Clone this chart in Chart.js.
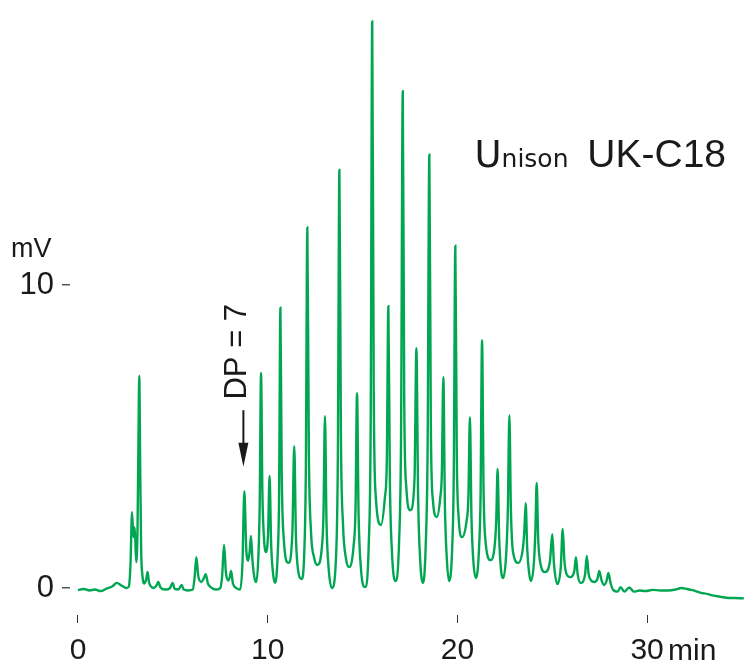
<!DOCTYPE html>
<html><head><meta charset="utf-8">
<script src="https://cdn.jsdelivr.net/npm/chart.js@4.4.0/dist/chart.umd.min.js"></script>
<style>html,body{margin:0;padding:0;background:#fff}#wrap{width:745px;height:662px;position:relative}</style>
</head><body><div id="wrap"><canvas id="c"></canvas></div>
<script>
// Retention time (min) and detector signal (mV)
const timeMin = [
  0.00,0.30,0.60,0.90,1.20,1.50,1.80,2.05,2.30,2.55,2.68,
  2.77,2.85,2.92,2.99,3.07,3.14,3.19,3.23,3.28,3.33,3.40,3.50,3.60,3.67,3.74,3.85,4.00,4.15,4.23,4.35,4.60,4.85,4.99,5.10,5.30,5.46,5.58,5.80,6.05,
  6.14,6.24,6.34,6.50,6.62,6.73,6.85,7.00,7.25,7.50,
  7.60,7.70,7.80,7.92,8.00,8.07,8.17,8.35,8.55,
  8.67,8.77,8.87,8.97,9.05,9.12,9.20,9.30,9.40,
  9.52,9.58,9.65,9.72,9.80,9.91,
  10.02,10.10,10.18,10.28,10.38,
  10.52,10.60,10.67,10.74,10.85,11.09,
  11.30,11.40,11.49,11.60,11.79,
  11.93,12.01,12.09,12.17,12.28,12.45,12.62,
  12.85,12.94,13.02,13.10,13.22,13.39,
  13.62,13.70,13.78,13.86,13.97,14.12,14.29,
  14.53,14.63,14.71,14.79,14.91,15.13,
  15.33,15.43,15.51,15.59,15.70,15.97,
  16.18,16.28,16.36,16.44,16.55,16.73,
  16.93,17.03,17.12,17.20,17.31,17.52,
  17.74,17.84,17.93,18.04,18.19,
  18.33,18.43,18.52,18.60,18.71,18.91,
  19.10,19.18,19.26,19.34,19.44,19.56,
  19.73,19.81,19.89,19.97,20.07,20.24,
  20.48,20.58,20.66,20.74,20.84,20.98,
  21.14,21.22,21.30,21.38,21.49,21.75,
  21.98,22.05,22.12,22.20,22.30,22.42,
  22.58,22.66,22.74,22.82,22.93,23.21,
  23.45,23.53,23.60,23.68,23.78,23.88,
  24.04,24.11,24.18,24.26,24.38,24.62,
  24.88,25.00,25.09,25.27,
  25.45,25.55,25.64,25.76,25.94,
  26.16,26.25,26.34,26.50,
  26.73,26.82,26.92,27.05,27.20,
  27.38,27.48,27.60,27.73,
  27.87,27.96,28.08,28.22,
  28.45,28.60,28.80,29.06,29.30,29.60,29.90,30.30,30.70,31.10,31.50,31.80,32.10,32.40,32.80,33.20,33.50,33.80,34.20,34.60,35.10
];
const signalMv = [
  -0.07,-0.03,-0.08,-0.05,-0.10,-0.02,0.05,0.17,0.08,0.00,0.05,
  0.8,2.5,1.68,2.0,0.86,2.0,5.0,7.0,4.0,1.3,0.4,0.15,0.3,0.53,0.2,0.05,0.0,0.1,0.2,0.02,-0.05,0.0,0.17,-0.03,-0.05,0.1,-0.05,-0.08,-0.05,
  0.3,1.02,0.4,0.2,0.3,0.46,0.15,0.03,-0.05,0.0,
  0.4,1.42,0.5,0.25,0.35,0.56,0.15,0.0,-0.05,
  0.8,3.2,1.3,0.9,1.2,1.72,0.9,0.35,0.2,
  1.2,2.8,7.1,3.2,1.7,1.19,
  1.8,3.7,1.5,0.5,0.17,
  1.0,3.0,9.25,3.8,1.6,0.83,
  1.8,4.68,1.7,0.6,0.3,
  1.2,3.8,11.9,4.5,1.9,1.0,0.76,
  1.3,2.4,5.67,2.2,0.6,0.0,
  1.3,4.4,13.8,5.0,2.1,1.0,0.69,
  1.4,2.6,6.43,2.5,0.7,0.03,
  1.5,5.5,18.7,6.5,3.0,2.08,
  3.0,4.2,9.3,3.6,1.2,0.23,
  1.6,5.0,16.4,6.0,3.3,2.57,
  3.6,7.92,3.0,0.9,0.17,
  1.4,4.6,14.3,5.4,2.9,2.34,
  3.0,3.8,6.96,2.8,1.0,0.23,
  1.4,3.8,11.3,4.3,2.3,1.68,
  2.2,3.0,5.64,2.4,0.9,0.33,
  1.3,3.0,8.18,3.2,1.5,0.92,
  1.5,2.3,3.93,1.7,0.6,0.33,
  1.2,2.6,5.7,2.6,1.2,0.83,
  1.3,1.9,2.8,1.3,0.5,0.23,
  0.9,1.9,3.47,1.6,0.8,0.53,
  0.9,1.78,0.8,0.13,
  0.7,1.95,0.9,0.45,0.36,
  0.55,1.02,0.45,0.17,
  0.45,1.06,0.45,0.25,0.2,
  0.3,0.56,0.25,0.1,
  0.25,0.5,0.15,-0.07,
  -0.12,0.03,-0.12,0.02,-0.12,-0.08,-0.10,-0.06,-0.08,-0.08,-0.05,0.0,-0.03,-0.07,-0.15,-0.20,-0.25,-0.28,-0.32,-0.33,-0.34
];
const xTickValues = [0, 10, 20, 30];
const yTickValues = [0, 10];
const xUnit = 'min';
const yUnit = 'mV';
const brandName = 'Unison';
const columnName = 'UK-C18';
const markerLabel = 'DP = 7';
const markerTime = 8.72;

const FONT = '"Liberation Sans", Arial, Helvetica, sans-serif';
const INK = '#1a1a1a';

const overlay = {
  id: 'overlay',
  afterDraw(chart) {
    const {ctx, scales: {x, y}} = chart;
    ctx.save();
    ctx.fillStyle = INK;
    ctx.textAlign = 'left';
    ctx.textBaseline = 'alphabetic';
    // axis unit labels
    ctx.font = '27px ' + FONT;
    ctx.fillText(yUnit, 11, y.getPixelForValue(10) - 28);
    ctx.font = '30px ' + FONT;
    ctx.fillText(xUnit, x.getPixelForValue(30) + 21, 660);
    // column name
    const bx = x.getPixelForValue(20.9), by = y.getPixelForValue(13.9);
    ctx.font = '400 37px "DejaVu Sans", sans-serif';
    ctx.fillText(brandName[0], bx, by);
    const w = ctx.measureText(brandName[0]).width;
    ctx.font = '400 25px "DejaVu Sans", sans-serif';
    ctx.fillText(brandName.slice(1), bx + w, by);
    ctx.font = '39px ' + FONT;
    ctx.fillText(columnName, x.getPixelForValue(26.85), by);
    // DP = 7 marker
    const ax = x.getPixelForValue(markerTime);
    const yTail = y.getPixelForValue(5.87), yTip = y.getPixelForValue(4.0);
    ctx.strokeStyle = INK; ctx.lineWidth = 2;
    ctx.beginPath(); ctx.moveTo(ax, yTail); ctx.lineTo(ax, yTip - 20); ctx.stroke();
    ctx.beginPath(); ctx.moveTo(ax - 5, yTip - 24); ctx.lineTo(ax + 5, yTip - 24); ctx.lineTo(ax, yTip); ctx.closePath(); ctx.fill();
    ctx.translate(ax + 2.5, y.getPixelForValue(7.8));
    ctx.rotate(-Math.PI / 2);
    ctx.textAlign = 'center';
    ctx.font = '31px ' + FONT;
    ctx.fillText(markerLabel, 0, 0);
    ctx.restore();
  }
};

new Chart(document.getElementById('c'), {
  type: 'line',
  data: {
    datasets: [{
      data: timeMin.map((t, i) => ({x: t, y: signalMv[i]})),
      borderColor: '#00a651',
      borderWidth: 2.4,
      pointRadius: 0,
      fill: false,
      cubicInterpolationMode: 'monotone'
    }]
  },
  options: {
    responsive: true,
    maintainAspectRatio: false,
    animation: false,
    layout: {padding: 0},
    plugins: {legend: {display: false}, tooltip: {enabled: false}},
    scales: {
      x: {
        type: 'linear', min: -0.42, max: 35.16,
        afterBuildTicks: s => { s.ticks = xTickValues.map(v => ({value: v})); },
        afterFit: s => { s.height = 47; s.paddingLeft = 0; s.paddingRight = 0; },
        border: {display: false},
        grid: {drawOnChartArea: false, drawTicks: true, tickLength: 8, tickColor: '#333', lineWidth: 1},
        ticks: {font: {family: FONT, size: 30}, color: INK, padding: 10, maxRotation: 0, autoSkip: false}
      },
      y: {
        type: 'linear', min: -0.89, max: 19.41,
        afterBuildTicks: s => { s.ticks = yTickValues.map(v => ({value: v})); },
        afterFit: s => { s.width = 70; s.paddingTop = 0; s.paddingBottom = 0; },
        border: {display: false},
        grid: {drawOnChartArea: false, drawTicks: true, tickLength: 8, tickColor: '#555', lineWidth: 1.5},
        ticks: {font: {family: FONT, size: 31}, color: INK, padding: 8, autoSkip: false}
      }
    }
  },
  plugins: [overlay]
});
</script></body></html>
